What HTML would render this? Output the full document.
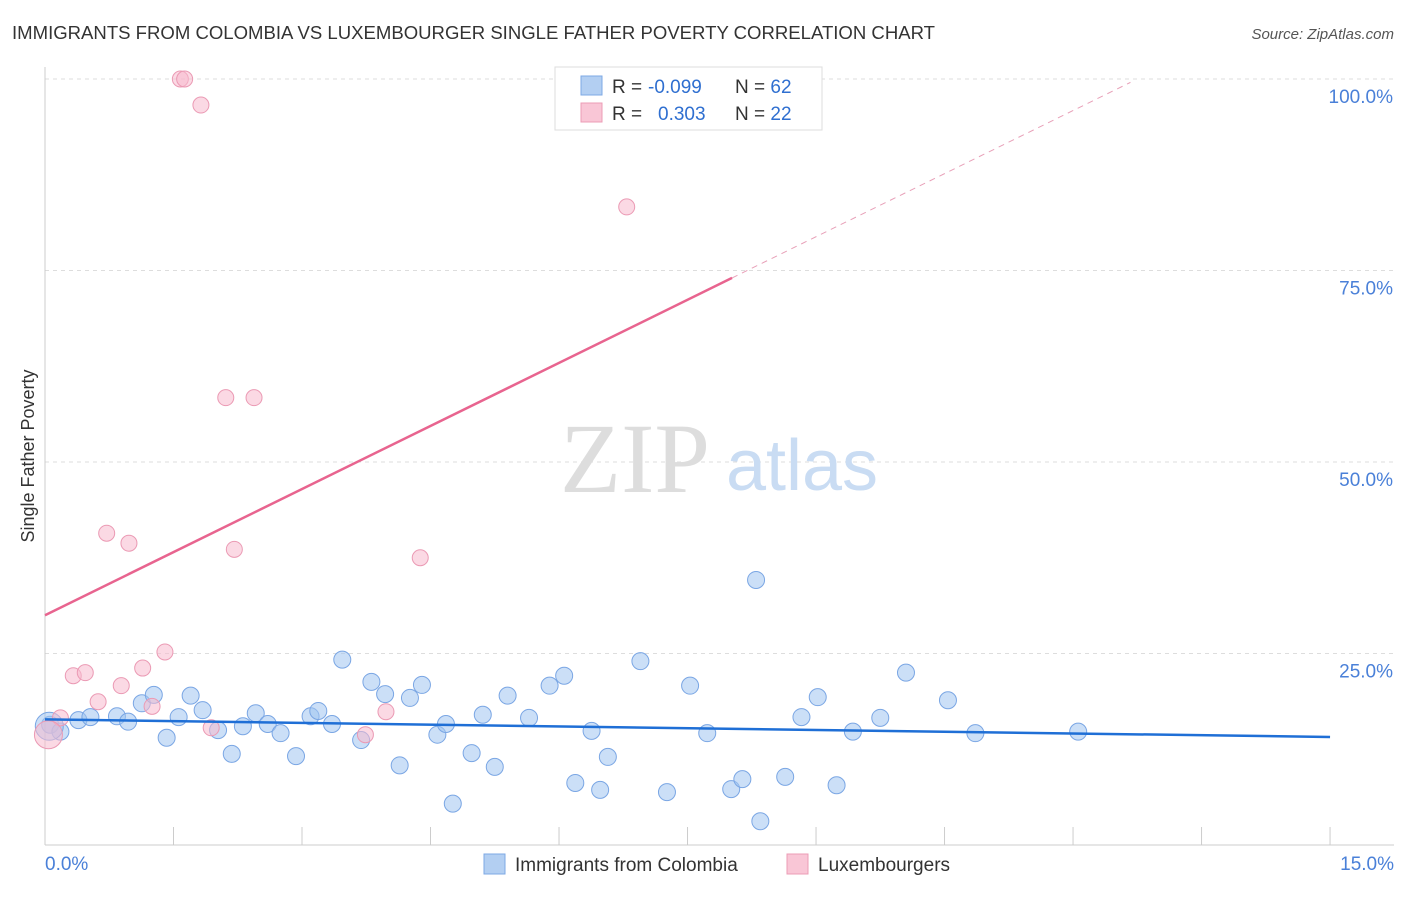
<!DOCTYPE html>
<html><head><meta charset="utf-8"><style>
body{margin:0;background:#fff;font-family:"Liberation Sans",sans-serif;}
svg text{font-family:"Liberation Sans",sans-serif;}
</style></head><body>
<svg id="chart" width="1406" height="892" viewBox="0 0 1406 892" xmlns="http://www.w3.org/2000/svg">
<text x="12" y="39" font-size="18" fill="#333" textLength="923" lengthAdjust="spacingAndGlyphs">IMMIGRANTS FROM COLOMBIA VS LUXEMBOURGER SINGLE FATHER POVERTY CORRELATION CHART</text>
<text x="1394" y="39" font-size="15" fill="#555" font-style="italic" text-anchor="end">Source: ZipAtlas.com</text>
<g id="grid"></g>
<text x="635" y="492" font-size="100" fill="#ddd" style="font-family:'Liberation Serif',serif" text-anchor="middle">ZIP</text>
<text x="802" y="490" font-size="72" fill="#c9dcf3" text-anchor="middle">atlas</text>
<line x1="45" y1="67" x2="45" y2="845" stroke="#ccc"/>
<line x1="45" y1="845" x2="1394" y2="845" stroke="#ccc"/>
<g id="ticks"></g>
<g id="blue"></g>
<g id="pink"></g>
<g id="lines"></g>
<text x="34" y="456" font-size="18" fill="#333" text-anchor="middle" transform="rotate(-90 34 456)">Single Father Poverty</text>
<g>
<rect x="555" y="67" width="267" height="63" fill="#fff" stroke="#ddd"/>
<rect x="581" y="76" width="21" height="19" fill="#b3cff2" stroke="#7ea8e4"/>
<rect x="581" y="103" width="21" height="19" fill="#f9c6d6" stroke="#ec9cb6"/>
<text x="612" y="93" font-size="19" fill="#333">R = <tspan fill="#2f6fd0" x="648">-0.099</tspan><tspan fill="#333" x="735">N = </tspan><tspan fill="#2f6fd0">62</tspan></text>
<text x="612" y="120" font-size="19" fill="#333">R = <tspan fill="#2f6fd0" x="658">0.303</tspan><tspan fill="#333" x="735">N = </tspan><tspan fill="#2f6fd0">22</tspan></text>
</g>
<g>
<rect x="484" y="854" width="21" height="20" fill="#b3cff2" stroke="#7ea8e4"/>
<text x="515" y="871" font-size="19" fill="#333">Immigrants from Colombia</text>
<rect x="787" y="854" width="21" height="20" fill="#f9c6d6" stroke="#ec9cb6"/>
<text x="818" y="871" font-size="19" fill="#333">Luxembourgers</text>
</g>
</svg>
<script>
const yTicks=[25,50,75,100];
const yTickLabels=["25.0%","50.0%","75.0%","100.0%"];
const xTicks=[1.5,3,4.5,6,7.5,9,10.5,12,13.5,15];
const xEndLabels=["0.0%","15.0%"];
const blueX=[0.06,0.18,0.39,0.53,0.84,0.97,1.13,1.27,1.42,1.56,1.70,1.84,2.02,2.18,2.31,2.46,2.60,2.75,2.93,3.10,3.19,3.35,3.47,3.69,3.81,3.97,4.14,4.26,4.40,4.58,4.68,4.76,4.98,5.11,5.25,5.40,5.65,5.89,6.06,6.19,6.38,6.48,6.57,6.95,7.26,7.53,7.73,8.01,8.14,8.30,8.35,8.64,8.83,9.02,9.24,9.43,9.75,10.05,10.54,10.86,12.06,0.05];
const blueY=[15.7,14.8,16.3,16.7,16.8,16.1,18.5,19.6,14.0,16.7,19.5,17.6,15.0,11.9,15.5,17.2,15.8,14.6,11.6,16.8,17.5,15.8,24.2,13.7,21.3,19.7,10.4,19.2,20.9,14.4,15.8,5.4,12.0,17.0,10.2,19.5,16.6,20.8,22.1,8.1,14.9,7.2,11.5,24.0,6.9,20.8,14.6,7.3,8.6,34.6,3.1,8.9,16.7,19.3,7.8,14.8,16.6,22.5,18.9,14.6,14.8,15.5];
const pinkX=[1.58,1.63,1.82,6.79,2.11,2.44,0.72,0.98,2.21,4.38,1.40,0.33,0.47,1.14,0.89,0.62,1.25,1.94,3.74,3.98,0.18,0.04];
const pinkY=[100,100,96.6,83.3,58.4,58.4,40.7,39.4,38.6,37.5,25.2,22.1,22.5,23.1,20.8,18.7,18.1,15.3,14.4,17.4,16.6,14.4];
const blueTrend=[16.4,14.1];
const pinkTrend=[30.0,5.49];
const pinkSolidEnd=8.02, pinkDashEnd=12.67;
const NS="http://www.w3.org/2000/svg";
const sx=v=>45+v*85.67, sy=v=>845-v*7.66;
function mk(tag,attrs,parent){const e=document.createElementNS(NS,tag);for(const k in attrs)e.setAttribute(k,attrs[k]);parent.appendChild(e);return e;}
const grid=document.getElementById('grid'),ticks=document.getElementById('ticks');
yTicks.forEach((t,i)=>{
 const l=mk('line',{x1:45,x2:1394,y1:sy(t),y2:sy(t),stroke:'#ddd','stroke-dasharray':'4,4'},grid);
 
 
 const tx=mk('text',{x:1393,y:sy(t)+24,'font-size':19,fill:'#4a80d8','text-anchor':'end'},ticks);
 tx.textContent=yTickLabels[i];
 
 
});
xTicks.forEach(t=>{
 const l=mk('line',{x1:sx(t),x2:sx(t),y1:827,y2:845,stroke:'#ccc'},ticks);
 
 
});
const x0=mk('text',{x:45,y:870,'font-size':19,fill:'#4a80d8'},ticks);x0.textContent=xEndLabels[0];


const x1=mk('text',{x:1394,y:870,'font-size':19,fill:'#4a80d8','text-anchor':'end'},ticks);x1.textContent=xEndLabels[1];


const bg=document.getElementById('blue');
blueX.forEach((x,i)=>{
 const r=(i===blueX.length-1)?14:8.5;
 const c=mk('circle',{cx:sx(x),cy:sy(blueY[i]),r:r,fill:'rgba(160,196,240,0.55)',stroke:'#7aa6e4','stroke-width':1},bg);
 
 
});
const pg=document.getElementById('pink');
pinkX.forEach((x,i)=>{
 const r=(i===pinkX.length-1)?14:8;
 const c=mk('circle',{cx:sx(x),cy:sy(pinkY[i]),r:r,fill:'rgba(247,185,205,0.55)',stroke:'#eb9ab4','stroke-width':1},pg);
 
 
});
const lg=document.getElementById('lines');
const bl=mk('line',{x1:sx(0),y1:sy(blueTrend[0]),x2:sx(15),y2:sy(blueTrend[1]),stroke:'#1f6fd6','stroke-width':2.5},lg);


const pl=mk('line',{x1:sx(0),y1:sy(pinkTrend[0]),x2:sx(pinkSolidEnd),y2:sy(pinkTrend[0]+pinkTrend[1]*pinkSolidEnd),stroke:'#e8648f','stroke-width':2.5},lg);


const pd=mk('line',{x1:sx(pinkSolidEnd),y1:sy(pinkTrend[0]+pinkTrend[1]*pinkSolidEnd),x2:sx(pinkDashEnd),y2:sy(pinkTrend[0]+pinkTrend[1]*pinkDashEnd),stroke:'#e8a0b8','stroke-width':1,'stroke-dasharray':'6,5'},lg);


</script>
</body></html>
